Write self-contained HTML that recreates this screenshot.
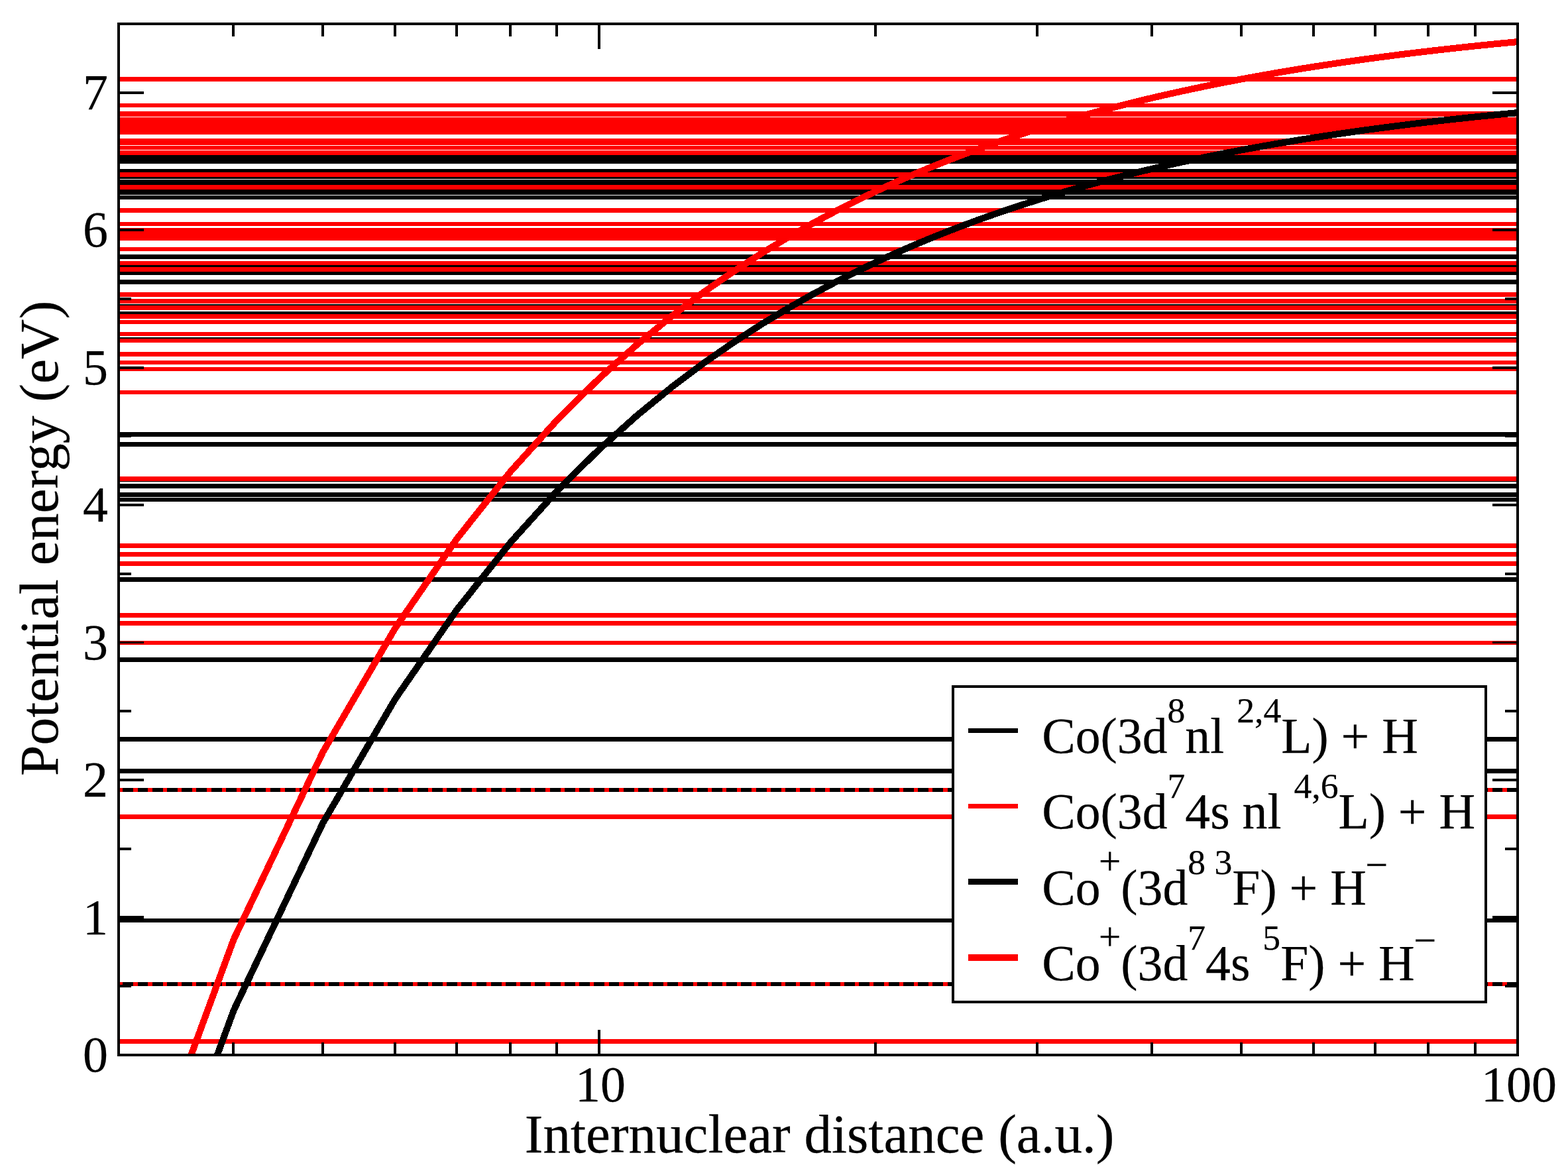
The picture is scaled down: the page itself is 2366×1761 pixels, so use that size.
<!DOCTYPE html>
<html lang="en"><head><meta charset="utf-8"><title>Co + H potential energy</title>
<style>html,body{margin:0;padding:0;background:#fff;overflow:hidden}svg{display:block}text{font-family:"Liberation Serif","DejaVu Serif",serif;fill:#000;stroke:#000;stroke-width:0.25px}</style></head><body>
<svg width="2366" height="1761" viewBox="0 0 2366 1761">
<rect width="2366" height="1761" fill="#fff"/>
<defs><clipPath id="c"><rect x="179" y="36" width="2111" height="1556"/></clipPath></defs>
<g shape-rendering="crispEdges">
<path fill="#000000" d="M181 234h2107v13h-2107zM181 255h2107v5h-2107zM181 267h2107v3h-2107zM181 271h2107v8h-2107zM181 286h2107v8h-2107zM181 295h2107v6h-2107zM181 384h2107v7h-2107zM181 400h2107v3h-2107zM181 410h2107v5h-2107zM181 422h2107v7h-2107zM181 459h2107v2h-2107zM181 470h2107v4h-2107zM181 509h2107v2h-2107zM181 652h2107v7h-2107zM181 667h2107v7h-2107zM181 726h2107v1h-2107zM181 730h2107v7h-2107zM181 743h2107v7h-2107zM181 751h2107v6h-2107zM181 871h2107v7h-2107zM181 992h2107v7h-2107zM181 1112h2107v7h-2107zM181 1160h2107v7h-2107zM181 1189h2107v6h-2107zM181 1386h2107v6h-2107zM181 1482h2107v6h-2107z"/>
<path fill="#ff0000" d="M181 116h2107v7h-2107zM181 156h2107v6h-2107zM181 168h2107v8h-2107zM181 177h2107v26h-2107zM181 209h2107v10h-2107zM181 220h2107v6h-2107zM181 227h2107v7h-2107zM181 260h2107v7h-2107zM181 279h2107v7h-2107zM181 314h2107v7h-2107zM181 335h2107v6h-2107zM181 344h2107v19h-2107zM181 373h2107v6h-2107zM181 394h2107v6h-2107zM181 403h2107v7h-2107zM181 441h2107v7h-2107zM181 451h2107v7h-2107zM181 461h2107v7h-2107zM181 474h2107v7h-2107zM181 483h2107v6h-2107zM181 501h2107v6h-2107zM181 511h2107v6h-2107zM181 531h2107v7h-2107zM181 544h2107v6h-2107zM181 554h2107v6h-2107zM181 589h2107v6h-2107zM181 719h2107v7h-2107zM181 820h2107v7h-2107zM181 833h2107v7h-2107zM181 847h2107v7h-2107zM181 925h2107v7h-2107zM181 937h2107v7h-2107zM181 967h2107v6h-2107zM181 1229h2107v7h-2107zM181 1568h2107v7h-2107z"/>
<path fill="#ff0000" d="M181.0 1189H185.3V1195H181.0zM201.2 1189H207.5V1195H201.2zM223.4 1189H229.7V1195H223.4zM245.7 1189H252.0V1195H245.7zM267.9 1189H274.2V1195H267.9zM290.1 1189H296.4V1195H290.1zM312.3 1189H318.6V1195H312.3zM334.5 1189H340.8V1195H334.5zM356.7 1189H363.0V1195H356.7zM379.0 1189H385.3V1195H379.0zM401.2 1189H407.5V1195H401.2zM423.4 1189H429.7V1195H423.4zM445.6 1189H451.9V1195H445.6zM467.8 1189H474.1V1195H467.8zM490.0 1189H496.3V1195H490.0zM512.3 1189H518.6V1195H512.3zM534.5 1189H540.8V1195H534.5zM556.7 1189H563.0V1195H556.7zM578.9 1189H585.2V1195H578.9zM601.1 1189H607.4V1195H601.1zM623.3 1189H629.6V1195H623.3zM645.6 1189H651.9V1195H645.6zM667.8 1189H674.1V1195H667.8zM690.0 1189H696.3V1195H690.0zM712.2 1189H718.5V1195H712.2zM734.4 1189H740.7V1195H734.4zM756.6 1189H762.9V1195H756.6zM778.9 1189H785.2V1195H778.9zM801.1 1189H807.4V1195H801.1zM823.3 1189H829.6V1195H823.3zM845.5 1189H851.8V1195H845.5zM867.7 1189H874.0V1195H867.7zM889.9 1189H896.2V1195H889.9zM912.2 1189H918.5V1195H912.2zM934.4 1189H940.7V1195H934.4zM956.6 1189H962.9V1195H956.6zM978.8 1189H985.1V1195H978.8zM1001.0 1189H1007.3V1195H1001.0zM1023.2 1189H1029.5V1195H1023.2zM1045.5 1189H1051.8V1195H1045.5zM1067.7 1189H1074.0V1195H1067.7zM1089.9 1189H1096.2V1195H1089.9zM1112.1 1189H1118.4V1195H1112.1zM1134.3 1189H1140.6V1195H1134.3zM1156.5 1189H1162.8V1195H1156.5zM1178.8 1189H1185.1V1195H1178.8zM1201.0 1189H1207.3V1195H1201.0zM1223.2 1189H1229.5V1195H1223.2zM1245.4 1189H1251.7V1195H1245.4zM1267.6 1189H1273.9V1195H1267.6zM1289.9 1189H1296.2V1195H1289.9zM1312.1 1189H1318.4V1195H1312.1zM1334.3 1189H1340.6V1195H1334.3zM1356.5 1189H1362.8V1195H1356.5zM1378.7 1189H1385.0V1195H1378.7zM1400.9 1189H1407.2V1195H1400.9zM1423.2 1189H1429.5V1195H1423.2zM1445.4 1189H1451.7V1195H1445.4zM1467.6 1189H1473.9V1195H1467.6zM1489.8 1189H1496.1V1195H1489.8zM1512.0 1189H1518.3V1195H1512.0zM1534.2 1189H1540.5V1195H1534.2zM1556.5 1189H1562.8V1195H1556.5zM1578.7 1189H1585.0V1195H1578.7zM1600.9 1189H1607.2V1195H1600.9zM1623.1 1189H1629.4V1195H1623.1zM1645.3 1189H1651.6V1195H1645.3zM1667.5 1189H1673.8V1195H1667.5zM1689.8 1189H1696.1V1195H1689.8zM1712.0 1189H1718.3V1195H1712.0zM1734.2 1189H1740.5V1195H1734.2zM1756.4 1189H1762.7V1195H1756.4zM1778.6 1189H1784.9V1195H1778.6zM1800.8 1189H1807.1V1195H1800.8zM1823.1 1189H1829.4V1195H1823.1zM1845.3 1189H1851.6V1195H1845.3zM1867.5 1189H1873.8V1195H1867.5zM1889.7 1189H1896.0V1195H1889.7zM1911.9 1189H1918.2V1195H1911.9zM1934.1 1189H1940.4V1195H1934.1zM1956.4 1189H1962.7V1195H1956.4zM1978.6 1189H1984.9V1195H1978.6zM2000.8 1189H2007.1V1195H2000.8zM2023.0 1189H2029.3V1195H2023.0zM2045.2 1189H2051.5V1195H2045.2zM2067.4 1189H2073.7V1195H2067.4zM2089.7 1189H2096.0V1195H2089.7zM2111.9 1189H2118.2V1195H2111.9zM2134.1 1189H2140.4V1195H2134.1zM2156.3 1189H2162.6V1195H2156.3zM2178.5 1189H2184.8V1195H2178.5zM2200.7 1189H2207.0V1195H2200.7zM2223.0 1189H2229.3V1195H2223.0zM2245.2 1189H2251.5V1195H2245.2zM2267.4 1189H2273.7V1195H2267.4z"/>
<path fill="#ff0000" d="M181.0 1482H185.3V1488H181.0zM201.2 1482H207.5V1488H201.2zM223.4 1482H229.7V1488H223.4zM245.7 1482H252.0V1488H245.7zM267.9 1482H274.2V1488H267.9zM290.1 1482H296.4V1488H290.1zM312.3 1482H318.6V1488H312.3zM334.5 1482H340.8V1488H334.5zM356.7 1482H363.0V1488H356.7zM379.0 1482H385.3V1488H379.0zM401.2 1482H407.5V1488H401.2zM423.4 1482H429.7V1488H423.4zM445.6 1482H451.9V1488H445.6zM467.8 1482H474.1V1488H467.8zM490.0 1482H496.3V1488H490.0zM512.3 1482H518.6V1488H512.3zM534.5 1482H540.8V1488H534.5zM556.7 1482H563.0V1488H556.7zM578.9 1482H585.2V1488H578.9zM601.1 1482H607.4V1488H601.1zM623.3 1482H629.6V1488H623.3zM645.6 1482H651.9V1488H645.6zM667.8 1482H674.1V1488H667.8zM690.0 1482H696.3V1488H690.0zM712.2 1482H718.5V1488H712.2zM734.4 1482H740.7V1488H734.4zM756.6 1482H762.9V1488H756.6zM778.9 1482H785.2V1488H778.9zM801.1 1482H807.4V1488H801.1zM823.3 1482H829.6V1488H823.3zM845.5 1482H851.8V1488H845.5zM867.7 1482H874.0V1488H867.7zM889.9 1482H896.2V1488H889.9zM912.2 1482H918.5V1488H912.2zM934.4 1482H940.7V1488H934.4zM956.6 1482H962.9V1488H956.6zM978.8 1482H985.1V1488H978.8zM1001.0 1482H1007.3V1488H1001.0zM1023.2 1482H1029.5V1488H1023.2zM1045.5 1482H1051.8V1488H1045.5zM1067.7 1482H1074.0V1488H1067.7zM1089.9 1482H1096.2V1488H1089.9zM1112.1 1482H1118.4V1488H1112.1zM1134.3 1482H1140.6V1488H1134.3zM1156.5 1482H1162.8V1488H1156.5zM1178.8 1482H1185.1V1488H1178.8zM1201.0 1482H1207.3V1488H1201.0zM1223.2 1482H1229.5V1488H1223.2zM1245.4 1482H1251.7V1488H1245.4zM1267.6 1482H1273.9V1488H1267.6zM1289.9 1482H1296.2V1488H1289.9zM1312.1 1482H1318.4V1488H1312.1zM1334.3 1482H1340.6V1488H1334.3zM1356.5 1482H1362.8V1488H1356.5zM1378.7 1482H1385.0V1488H1378.7zM1400.9 1482H1407.2V1488H1400.9zM1423.2 1482H1429.5V1488H1423.2zM1445.4 1482H1451.7V1488H1445.4zM1467.6 1482H1473.9V1488H1467.6zM1489.8 1482H1496.1V1488H1489.8zM1512.0 1482H1518.3V1488H1512.0zM1534.2 1482H1540.5V1488H1534.2zM1556.5 1482H1562.8V1488H1556.5zM1578.7 1482H1585.0V1488H1578.7zM1600.9 1482H1607.2V1488H1600.9zM1623.1 1482H1629.4V1488H1623.1zM1645.3 1482H1651.6V1488H1645.3zM1667.5 1482H1673.8V1488H1667.5zM1689.8 1482H1696.1V1488H1689.8zM1712.0 1482H1718.3V1488H1712.0zM1734.2 1482H1740.5V1488H1734.2zM1756.4 1482H1762.7V1488H1756.4zM1778.6 1482H1784.9V1488H1778.6zM1800.8 1482H1807.1V1488H1800.8zM1823.1 1482H1829.4V1488H1823.1zM1845.3 1482H1851.6V1488H1845.3zM1867.5 1482H1873.8V1488H1867.5zM1889.7 1482H1896.0V1488H1889.7zM1911.9 1482H1918.2V1488H1911.9zM1934.1 1482H1940.4V1488H1934.1zM1956.4 1482H1962.7V1488H1956.4zM1978.6 1482H1984.9V1488H1978.6zM2000.8 1482H2007.1V1488H2000.8zM2023.0 1482H2029.3V1488H2023.0zM2045.2 1482H2051.5V1488H2045.2zM2067.4 1482H2073.7V1488H2067.4zM2089.7 1482H2096.0V1488H2089.7zM2111.9 1482H2118.2V1488H2111.9zM2134.1 1482H2140.4V1488H2134.1zM2156.3 1482H2162.6V1488H2156.3zM2178.5 1482H2184.8V1488H2178.5zM2200.7 1482H2207.0V1488H2200.7zM2223.0 1482H2229.3V1488H2223.0zM2245.2 1482H2251.5V1488H2245.2zM2267.4 1482H2273.7V1488H2267.4z"/>
</g>
<g clip-path="url(#c)" fill="none" stroke-width="10" stroke-linejoin="round" shape-rendering="crispEdges">
<polyline stroke="#000000" points="179.54,1994.76 352.69,1524.47 487.00,1242.31 596.74,1054.19 689.52,919.83 769.89,819.05 840.78,740.67 904.20,677.97 961.57,626.67 1013.94,583.91 1062.11,547.74 1106.72,516.73 1148.24,489.86 1187.09,466.34 1223.58,445.59 1257.98,427.15 1290.52,410.65 1321.40,395.80 1350.76,382.36 1378.76,370.15 1405.52,359.00 1431.13,348.77 1455.71,339.37 1479.31,330.68 1502.03,322.65 1523.92,315.18 1545.04,308.23 1565.44,301.74 1585.18,295.68 1604.29,289.99 1622.81,284.64 1640.78,279.61 1658.22,274.87 1675.18,270.39 1691.67,266.16 1707.72,262.14 1723.36,258.33 1738.59,254.72 1753.46,251.27 1767.96,248.00 1782.12,244.87 1795.96,241.89 1809.49,239.04 1822.72,236.31 1835.66,233.70 1848.33,231.20 1860.74,228.80 1872.90,226.50 1884.82,224.29 1896.51,222.16 1907.97,220.11 1919.22,218.14 1930.27,216.24 1941.11,214.41 1951.77,212.64 1962.23,210.93 1972.52,209.28 1982.64,207.69 1992.59,206.15 2002.38,204.65 2012.01,203.21 2021.48,201.81 2030.82,200.45 2040.01,199.14 2049.06,197.86 2057.97,196.62 2066.76,195.42 2075.42,194.25 2083.96,193.12 2092.38,192.01 2100.68,190.94 2108.87,189.89 2116.95,188.88 2124.92,187.89 2132.79,186.92 2140.55,185.98 2148.22,185.07 2155.79,184.17 2163.27,183.30 2170.65,182.45 2177.95,181.62 2185.16,180.81 2192.28,180.02 2199.32,179.25 2206.28,178.50 2213.16,177.76 2219.96,177.04 2226.68,176.34 2233.34,175.65 2239.91,174.97 2246.42,174.31 2252.86,173.67 2259.23,173.04 2265.53,172.42 2271.77,171.81 2277.94,171.22 2284.05,170.64 2290.10,170.07"/>
<polyline stroke="#ff0000" points="179.54,1887.74 352.69,1417.46 487.00,1135.29 596.74,947.18 689.52,812.81 769.89,712.04 840.78,633.66 904.20,570.96 961.57,519.65 1013.94,476.90 1062.11,440.72 1106.72,409.72 1148.24,382.84 1187.09,359.33 1223.58,338.58 1257.98,320.14 1290.52,303.64 1321.40,288.79 1350.76,275.35 1378.76,263.14 1405.52,251.98 1431.13,241.76 1455.71,232.35 1479.31,223.67 1502.03,215.63 1523.92,208.17 1545.04,201.22 1565.44,194.73 1585.18,188.66 1604.29,182.97 1622.81,177.63 1640.78,172.60 1658.22,167.86 1675.18,163.38 1691.67,159.14 1707.72,155.13 1723.36,151.32 1738.59,147.70 1753.46,144.26 1767.96,140.98 1782.12,137.86 1795.96,134.88 1809.49,132.03 1822.72,129.30 1835.66,126.69 1848.33,124.19 1860.74,121.79 1872.90,119.49 1884.82,117.27 1896.51,115.14 1907.97,113.10 1919.22,111.13 1930.27,109.22 1941.11,107.39 1951.77,105.62 1962.23,103.92 1972.52,102.27 1982.64,100.67 1992.59,99.13 2002.38,97.64 2012.01,96.20 2021.48,94.80 2030.82,93.44 2040.01,92.12 2049.06,90.85 2057.97,89.61 2066.76,88.41 2075.42,87.24 2083.96,86.10 2092.38,85.00 2100.68,83.92 2108.87,82.88 2116.95,81.86 2124.92,80.87 2132.79,79.91 2140.55,78.97 2148.22,78.05 2155.79,77.16 2163.27,76.29 2170.65,75.44 2177.95,74.61 2185.16,73.80 2192.28,73.01 2199.32,72.24 2206.28,71.48 2213.16,70.75 2219.96,70.03 2226.68,69.32 2233.34,68.63 2239.91,67.96 2246.42,67.30 2252.86,66.65 2259.23,66.02 2265.53,65.40 2271.77,64.80 2277.94,64.20 2284.05,63.62 2290.10,63.05"/>
</g>
<g shape-rendering="crispEdges" fill="#000">
<path d="M181 138h36v4h-36zM2252 138h36v4h-36zM181 242h17v4h-17zM2271 242h17v4h-17zM181 345h36v4h-36zM2252 345h36v4h-36zM181 449h17v4h-17zM2271 449h17v4h-17zM181 553h36v4h-36zM2252 553h36v4h-36zM181 657h17v3h-17zM2271 657h17v3h-17zM181 760h36v4h-36zM2252 760h36v4h-36zM181 864h17v4h-17zM2271 864h17v4h-17zM181 968h36v3h-36zM2252 968h36v3h-36zM181 1071h17v4h-17zM2271 1071h17v4h-17zM181 1175h36v4h-36zM2252 1175h36v4h-36zM181 1279h17v4h-17zM2271 1279h17v4h-17zM181 1382h36v4h-36zM2252 1382h36v4h-36zM181 1486h17v4h-17zM2271 1486h17v4h-17zM350 38h4v17h-4zM350 1573h4v17h-4zM485 38h4v17h-4zM485 1573h4v17h-4zM594 38h4v17h-4zM594 1573h4v17h-4zM687 38h4v17h-4zM687 1573h4v17h-4zM768 38h4v17h-4zM768 1573h4v17h-4zM838 38h4v17h-4zM838 1573h4v17h-4zM902 38h4v36h-4zM902 1554h4v36h-4zM1319 38h4v17h-4zM1319 1573h4v17h-4zM1563 38h4v17h-4zM1563 1573h4v17h-4zM1736 38h4v17h-4zM1736 1573h4v17h-4zM1871 38h4v17h-4zM1871 1573h4v17h-4zM1980 38h4v17h-4zM1980 1573h4v17h-4zM2073 38h4v17h-4zM2073 1573h4v17h-4zM2153 38h4v17h-4zM2153 1573h4v17h-4zM2224 38h4v17h-4zM2224 1573h4v17h-4z"/>
<path fill="none" stroke="#000" stroke-width="4" d="M179 36H2290V1592H179z"/>
<rect x="1438" y="1036" width="804" height="476" fill="#fff" stroke="#000" stroke-width="4"/>
<rect x="1461" y="1099" width="75" height="7" fill="#000"/>
<rect x="1461" y="1213" width="75" height="7" fill="#ff0000"/>
<rect x="1461" y="1326" width="75" height="9" fill="#000"/>
<rect x="1461" y="1440" width="75" height="10" fill="#ff0000"/>
</g>
<g font-size="76" text-anchor="end">
<text x="163" y="1617.0">0</text>
<text x="163" y="1409.6">1</text>
<text x="163" y="1202.1">2</text>
<text x="163" y="994.7">3</text>
<text x="163" y="787.3">4</text>
<text x="163" y="579.8">5</text>
<text x="163" y="372.4">6</text>
<text x="163" y="165.0">7</text>
</g>
<g font-size="76" text-anchor="middle">
<text x="906" y="1662">10</text>
<text x="2292" y="1662">100</text>
</g>
<text font-size="83" x="1236.6" y="1739" text-anchor="middle">Internuclear distance (a.u.)</text>
<text font-size="83.5" transform="translate(86.5 812.4) rotate(-90)" text-anchor="middle">Potential energy (eV)</text>
<g font-size="75.7" xml:space="preserve">
<text x="1572.3" y="1136">Co(3d<tspan font-size="53.7" dy="-45.6">8</tspan><tspan dy="45.6">nl </tspan><tspan font-size="53.7" dy="-45.6">2,4</tspan><tspan dy="45.6">L) + H</tspan></text>
<text x="1572.3" y="1250">Co(3d<tspan font-size="53.7" dy="-45.6">7</tspan><tspan dy="45.6">4s nl </tspan><tspan font-size="53.7" dy="-45.6">4,6</tspan><tspan dy="45.6">L) + H</tspan></text>
<text x="1572.3" y="1365">Co<tspan font-size="59.1" dx="-2.6" dy="-45.6">+</tspan><tspan dy="45.6">(3d</tspan><tspan font-size="53.7" dy="-45.6">8 3</tspan><tspan dy="45.6">F) + H</tspan><tspan font-size="60.2" dx="-1.5" dy="-40.1">−</tspan></text>
<text x="1572.3" y="1479">Co<tspan font-size="59.1" dx="-2.6" dy="-45.6">+</tspan><tspan dy="45.6">(3d</tspan><tspan font-size="53.7" dy="-45.6">7</tspan><tspan dy="45.6">4s </tspan><tspan font-size="53.7" dy="-45.6">5</tspan><tspan dy="45.6">F) + H</tspan><tspan font-size="60.2" dx="-1.5" dy="-40.1">−</tspan></text>
</g>
</svg></body></html>
